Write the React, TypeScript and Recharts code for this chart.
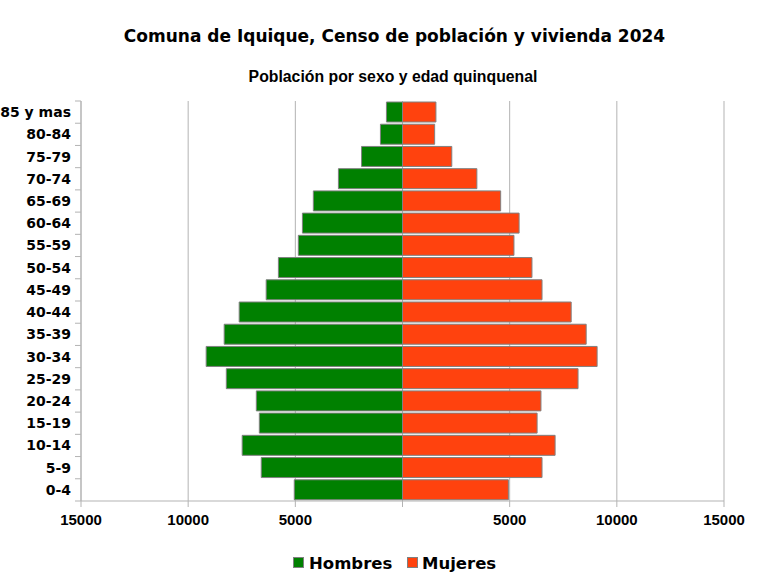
import React from 'react';
import { BarChart, Bar, XAxis, YAxis, CartesianGrid } from 'recharts';

const ageGroups = ['0-4', '5-9', '10-14', '15-19', '20-24', '25-29', '30-34', '35-39', '40-44', '45-49', '50-54', '55-59', '60-64', '65-69', '70-74', '75-79', '80-84', '85 y mas'];
const hombres = [5050, 6590, 7480, 6680, 6820, 8220, 9160, 8320, 7620, 6360, 5790, 4860, 4670, 4160, 2990, 1910, 1030, 750];
const mujeres = [4940, 6510, 7120, 6280, 6460, 8190, 9080, 8570, 7870, 6510, 6040, 5200, 5440, 4580, 3470, 2300, 1500, 1560];
const xTicks = [-15000, -10000, -5000, 0, 5000, 10000, 15000];

const data = ageGroups.map((g, i) => ({ age: g, hombres: -hombres[i], mujeres: mujeres[i] }));

const W = 783;
const H = 577;
const M = { top: 101, right: 59, left: 0, bottom: 46 };
const Y_W = 81;
const X_H = 30;
const PLOT_LEFT = M.left + Y_W;
const PLOT_H = H - M.top - M.bottom - X_H;
const HALF_BAND = PLOT_H / ageGroups.length / 2;
const AXIS = '#b3b3b3';
const GREEN = '#008000';
const ORANGE = '#ff420e';
const BORDER = '#808080';

const YTick = (props: any) => {
  const { y, payload } = props;
  const isTop = payload.value === ageGroups[ageGroups.length - 1];
  return (
    <g>
      <text x={PLOT_LEFT - 10} y={y} dy={5} textAnchor="end" fontFamily="'DejaVu Sans'" fontWeight="bold" fontSize={14} fill="#000">
        {payload.value}
      </text>
      <line x1={PLOT_LEFT - 6} x2={PLOT_LEFT} y1={y + HALF_BAND} y2={y + HALF_BAND} stroke={AXIS} strokeWidth={1} />
      {isTop && <line x1={PLOT_LEFT - 6} x2={PLOT_LEFT} y1={y - HALF_BAND} y2={y - HALF_BAND} stroke={AXIS} strokeWidth={1} />}
    </g>
  );
};

export default function App() {
  return (
    <div style={{ position: 'absolute', left: 0, top: 0, width: W, height: H, background: '#fff' }}>
      <BarChart width={W} height={H} data={data} layout="vertical" stackOffset="sign" barCategoryGap={1} margin={M}>
        <CartesianGrid horizontal={false} stroke={AXIS} strokeDasharray="" />
        <XAxis
          type="number"
          domain={[-15000, 15000]}
          ticks={xTicks}
          tickFormatter={(v: number) => (v === 0 ? '' : String(Math.abs(v)))}
          height={X_H}
          stroke={AXIS}
          tickSize={6}
          tickMargin={7}
          tick={{ fill: '#000', fontFamily: "'Liberation Sans'", fontWeight: 'bold', fontSize: 15 }}
          interval={0}
        />
        <XAxis xAxisId="top" orientation="top" type="number" domain={[-15000, 15000]} height={0} tick={false} tickLine={false} stroke={AXIS} />
        <YAxis
          type="category"
          dataKey="age"
          reversed
          width={Y_W}
          stroke={AXIS}
          tickLine={false}
          tick={<YTick />}
          interval={0}
        />
        <Bar dataKey="hombres" stackId="a" fill={GREEN} stroke={BORDER} strokeWidth={1} isAnimationActive={false} />
        <Bar dataKey="mujeres" stackId="a" fill={ORANGE} stroke={BORDER} strokeWidth={1} isAnimationActive={false} />
      </BarChart>
      <svg width={W} height={H} style={{ position: 'absolute', left: 0, top: 0, pointerEvents: 'none' }}>
        <text x={394.5} y={42} textAnchor="middle" fontFamily="'DejaVu Sans'" fontWeight="bold" fontSize={17} fill="#000">
          Comuna de Iquique, Censo de población y vivienda 2024
        </text>
        <text x={393} y={82} textAnchor="middle" fontFamily="'Liberation Sans'" fontWeight="bold" fontSize={15.8} fill="#000">
          Población por sexo y edad quinquenal
        </text>
        <rect x={293.5} y={557.5} width={10} height={10} fill={GREEN} stroke={BORDER} strokeWidth={1} />
        <text x={309} y={569} fontFamily="'DejaVu Sans'" fontWeight="bold" fontSize={16.5} fill="#000">Hombres</text>
        <rect x={407.5} y={557.5} width={10} height={10} fill={ORANGE} stroke={BORDER} strokeWidth={1} />
        <text x={422} y={569} fontFamily="'DejaVu Sans'" fontWeight="bold" fontSize={16.5} fill="#000">Mujeres</text>
      </svg>
    </div>
  );
}
